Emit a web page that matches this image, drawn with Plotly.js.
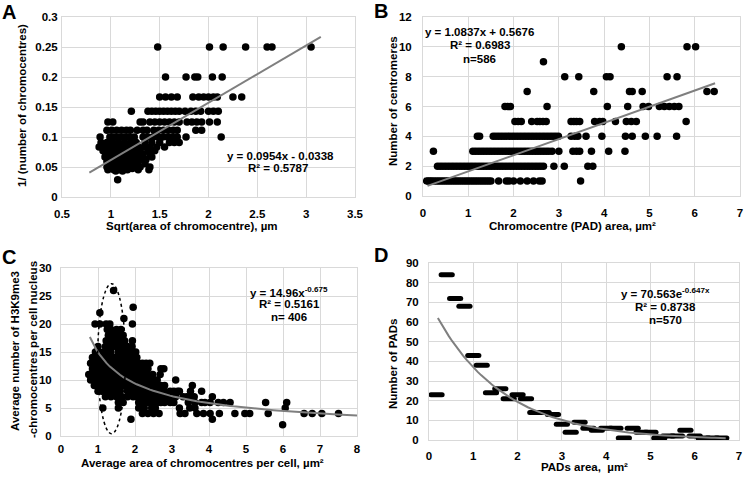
<!DOCTYPE html>
<html><head><meta charset="utf-8">
<script src="https://cdn.plot.ly/plotly-3.0.1.min.js"></script>
<style>html,body{margin:0;padding:0;background:#fff}#chart{width:744px;height:479px}path.point{stroke-linecap:round}</style>
</head><body><div id="chart"></div><script>
// ---------- Panel A: 1/(number of chromocentres) vs sqrt(area) ----------
const aLevels = [0.25, 0.2, 0.1667, 0.1429, 0.125, 0.1111, 0.1, 0.0909, 0.0833, 0.0769, 0.0714, 0.0667, 0.0625, 0.0588, 0.0556, 0.0526, 0.05, 0.0476, 0.0455, 0.0435, 0.0286];
const aRows = [
  [1.48, 2.01, 2.15, 2.38, 2.6, 2.65, 3.05],
  [1.56, 1.77, 1.86, 1.89, 2.04, 2.14],
  [1.5, 1.56, 1.62, 1.68, 1.84, 1.9, 1.95, 2.0, 2.05, 2.09, 2.25, 2.34],
  [1.21, 1.38, 1.42, 1.46, 1.5, 1.54, 1.58, 1.62, 1.66, 1.7, 1.76, 1.82, 1.87, 1.92, 2.0, 2.05, 2.1],
  [0.97, 1.02, 1.3, 1.33, 1.4, 1.45, 1.5, 1.55, 1.6, 1.65, 1.7, 1.78, 1.83, 1.88, 1.93, 2.01, 2.09],
  [0.96, 1.01, 1.06, 1.11, 1.16, 1.2, 1.27, 1.33, 1.37, 1.44, 1.49, 1.54, 1.59, 1.64, 1.68, 1.87, 1.93],
  [0.89, 0.99, 1.04, 1.09, 1.14, 1.19, 1.24, 1.33, 1.38, 1.43, 1.48, 1.53, 1.58, 1.63, 1.68, 1.77, 2.13],
  [0.9, 0.96, 1.02, 1.08, 1.14, 1.2, 1.26, 1.35, 1.42, 1.5, 1.6, 1.65, 1.7],
  [0.88, 0.93, 0.98, 1.04, 1.1, 1.16, 1.22, 1.28, 1.34, 1.4, 1.47, 1.55],
  [0.92, 0.97, 1.02, 1.07, 1.12, 1.17, 1.23, 1.3, 1.38, 1.45],
  [0.95, 1.0, 1.06, 1.11, 1.16, 1.21, 1.27, 1.33, 1.4],
  [0.94, 0.99, 1.04, 1.09, 1.14, 1.2, 1.25, 1.32, 1.42],
  [0.97, 1.03, 1.08, 1.13, 1.19, 1.24, 1.3, 1.36],
  [0.96, 1.01, 1.06, 1.12, 1.18, 1.23, 1.28],
  [0.98, 1.04, 1.1, 1.16, 1.22, 1.27, 1.35],
  [0.97, 1.02, 1.08, 1.14, 1.2, 1.25],
  [0.96, 1.01, 1.06, 1.12, 1.17, 1.24, 1.3, 1.4],
  [0.98, 1.04, 1.1, 1.15, 1.22],
  [0.97, 1.03, 1.09, 1.17, 1.28, 1.39],
  [1.05, 1.12],
  [1.07]
];
const aFit = [0.0954, -0.0338];      // slope, intercept (from chart label)
const aFitRange = [0.78, 3.15];

// ---------- Panel B: number of centromeres vs chromocentre area ----------
const bLevels = [10, 9, 8, 7, 6, 5, 4, 3, 2, 1];
const bRows = [
  [4.38, 5.83, 6.02],
  [2.66],
  [3.13, 3.44, 4.05, 4.13, 5.39, 5.61],
  [2.3, 3.77, 4.56, 4.62, 4.84, 6.27, 6.43],
  [1.81, 1.87, 1.93, 2.74, 4.07, 4.52, 4.86, 4.98, 5.22, 5.33, 5.44, 5.55, 5.65],
  [2.03, 2.1, 2.17, 2.4, 2.52, 2.58, 2.65, 2.72, 3.27, 3.33, 3.39, 3.46, 3.79, 3.9, 3.97, 4.25, 4.49, 4.6, 4.71, 5.81],
  [1.2, 1.25, 1.55, 1.61, 1.67, 1.73, 1.79, 1.85, 1.91, 1.97, 2.03, 2.09, 2.15, 2.21, 2.27, 2.33, 2.39, 2.45, 2.51, 2.57, 2.63, 2.69, 2.75, 2.81, 2.87, 2.93, 2.99, 3.27, 3.35, 3.42, 3.6, 3.95, 4.47, 4.62, 4.91, 5.17, 5.6],
  [0.23, 1.1, 1.16, 1.22, 1.28, 1.34, 1.4, 1.46, 1.52, 1.58, 1.64, 1.7, 1.76, 1.82, 1.88, 1.94, 2.0, 2.06, 2.12, 2.18, 2.24, 2.3, 2.36, 2.42, 2.48, 2.54, 2.6, 2.66, 2.72, 2.78, 2.85, 3.0, 3.31, 3.39, 3.46, 3.72, 4.1, 4.46],
  [0.32, 0.38, 0.44, 0.5, 0.56, 0.62, 0.68, 0.74, 0.8, 0.86, 0.92, 0.98, 1.04, 1.1, 1.16, 1.22, 1.28, 1.34, 1.4, 1.46, 1.52, 1.58, 1.64, 1.7, 1.76, 1.82, 1.88, 1.94, 2.0, 2.06, 2.12, 2.18, 2.24, 2.3, 2.36, 2.42, 2.48, 2.54, 2.6, 2.66, 2.89, 3.12, 3.64, 3.75],
  [0.08, 0.12, 0.16, 0.2, 0.25, 0.3, 0.35, 0.4, 0.45, 0.5, 0.55, 0.6, 0.65, 0.7, 0.75, 0.8, 0.85, 0.9, 0.95, 1.0, 1.05, 1.1, 1.15, 1.2, 1.25, 1.3, 1.35, 1.4, 1.45, 1.5, 1.67, 1.84, 1.9, 2.0, 2.15, 2.3, 2.44, 2.57, 2.63, 3.48]
];
const bFit = [1.0837, 0.5676];
const bFitRange = [0.1, 6.45];

// ---------- Panel C: average number of H3K9me3 chromocentres vs average area ----------
const cLevels = [26, 23, 22, 21, 20, 19, 18, 17, 16, 15, 14, 13, 12, 11, 10, 9, 8, 7, 6, 5, 4, 3, 2];
const cRows = [
  [1.42],
  [1.95],
  [1.05],
  [1.7],
  [0.92, 1.05, 1.22, 1.32, 1.93],
  [1.25, 1.35, 1.5, 1.62],
  [1.28, 1.38, 1.48, 1.58, 1.68],
  [1.22, 1.32, 1.42, 1.52, 1.62, 1.72, 1.93],
  [1.0, 1.2, 1.3, 1.4, 1.5, 1.6, 1.7, 1.8, 1.92],
  [0.93, 1.02, 1.15, 1.25, 1.35, 1.55, 1.65, 1.75, 1.85, 1.95, 2.02],
  [0.85, 0.95, 1.05, 1.15, 1.25, 1.35, 1.45, 1.55, 1.65, 1.75, 1.85, 1.95, 2.05],
  [0.8, 0.9, 1.0, 1.1, 1.2, 1.3, 1.4, 1.5, 1.6, 1.7, 1.8, 1.9, 2.0, 2.1, 2.2, 2.3, 2.4],
  [0.85, 0.95, 1.05, 1.15, 1.25, 1.35, 1.45, 1.55, 1.65, 1.75, 1.85, 1.95, 2.05, 2.15, 2.25, 2.35, 2.7, 2.78],
  [0.75, 0.85, 0.95, 1.05, 1.15, 1.25, 1.35, 1.45, 1.55, 1.65, 1.75, 1.85, 1.95, 2.05, 2.15, 2.25, 2.35, 2.48, 2.68],
  [0.8, 0.9, 1.0, 1.1, 1.2, 1.3, 1.4, 1.5, 1.6, 1.7, 1.8, 1.9, 2.0, 2.1, 2.2, 2.3, 2.4, 2.5, 2.6, 3.1],
  [0.9, 1.0, 1.1, 1.2, 1.3, 1.4, 1.5, 1.6, 1.7, 1.8, 1.9, 2.0, 2.1, 2.2, 2.3, 2.4, 2.5, 2.6, 2.7, 2.8, 3.55],
  [1.0, 1.1, 1.2, 1.3, 1.45, 1.6, 1.8, 1.9, 2.0, 2.1, 2.2, 2.3, 2.4, 2.5, 2.6, 2.7, 2.8, 2.95, 3.05, 3.15, 3.2, 3.5, 3.8],
  [1.2, 1.35, 1.5, 1.65, 1.8, 1.95, 2.05, 2.15, 2.25, 2.35, 2.45, 2.55, 2.65, 2.75, 2.85, 3.0, 3.1, 3.3, 3.4, 3.5, 3.6, 4.09],
  [1.55, 1.68, 2.1, 2.2, 2.3, 2.4, 2.5, 2.6, 2.7, 2.8, 2.95, 3.05, 3.44, 3.62, 3.8, 3.89, 4.03, 4.25, 4.39, 4.57, 5.53, 6.1],
  [1.13, 1.55, 2.1, 2.25, 2.45, 2.55, 3.2, 3.48, 3.62, 6.06],
  [2.2, 2.35, 2.5, 2.65, 3.22, 3.35, 3.67, 3.85, 4.03, 4.28, 4.7, 4.97, 5.1, 5.6, 6.57, 6.79, 7.05, 7.5],
  [1.89, 4.09],
  [5.99]
];
const cFit = [14.96, -0.675];        // y = a * x^b
const cFitRange = [0.78, 8];

// ---------- Panel D: number of PADs vs PAD area ----------
const dArea = [0.17, 0.4, 0.59, 0.8, 1.0, 1.19, 1.4, 1.61, 1.8, 2.0, 2.19, 2.4, 2.59, 2.8, 3.0, 3.2, 3.4, 3.6, 3.79, 4.0, 4.21, 4.4, 4.6, 4.8, 5.0, 5.2, 5.4, 5.6, 5.79, 6.0, 6.2, 6.4, 6.6];
const dCount = [23, 84, 72, 68, 43, 38, 24, 26, 21, 23, 21, 14, 14, 13, 8, 4, 9, 6, 5, 6, 6, 1, 6, 4, 4, 1, 2, 2, 5, 2, 1, 1, 1];
const dFit = [70.563, -0.647];       // y = a * e^(b x)
const dFitRange = [0.2, 6.7];

// ---------- build ----------
function expand(levels, rows) {
  const x = [], y = [];
  rows.forEach((r, i) => r.forEach(v => { x.push(v); y.push(levels[i]); }));
  return {x, y};
}
function sample(range, n) { const o = []; for (let i = 0; i <= n; i++) o.push(range[0] + (range[1] - range[0]) * i / n); return o; }

const A = expand(aLevels, aRows), B = expand(bLevels, bRows), C = expand(cLevels, cRows);
const lineStyle = {color: '#7f7f7f', width: 2};
const dot = {color: '#000', size: 7.5};

const aLx = aFitRange, aLy = aLx.map(x => aFit[0] * x + aFit[1]);
const bLx = bFitRange, bLy = bLx.map(x => bFit[0] * x + bFit[1]);
const cLx = sample(cFitRange, 80), cLy = cLx.map(x => cFit[0] * Math.pow(x, cFit[1]));
const dLx = sample(dFitRange, 80), dLy = dLx.map(x => dFit[0] * Math.exp(dFit[1] * x));

const traces = [
  {x: A.x, y: A.y, mode: 'markers', marker: dot, xaxis: 'x', yaxis: 'y'},
  {x: aLx, y: aLy, mode: 'lines', line: lineStyle, xaxis: 'x', yaxis: 'y'},
  {x: B.x, y: B.y, mode: 'markers', marker: dot, xaxis: 'x2', yaxis: 'y2'},
  {x: bLx, y: bLy, mode: 'lines', line: lineStyle, xaxis: 'x2', yaxis: 'y2'},
  {x: C.x, y: C.y, mode: 'markers', marker: {color: '#000', size: 7.5}, xaxis: 'x3', yaxis: 'y3'},
  {x: cLx, y: cLy, mode: 'lines', line: lineStyle, xaxis: 'x3', yaxis: 'y3'},
  {x: dArea, y: dCount, mode: 'markers', marker: {symbol: 'line-ew', size: 8, color: '#000', line: {color: '#000', width: 5}}, xaxis: 'x4', yaxis: 'y4'},
  {x: dLx, y: dLy, mode: 'lines', line: lineStyle, xaxis: 'x4', yaxis: 'y4'}
];

const FAM = 'Liberation Sans, Arial, Helvetica, sans-serif';
const tf = {family: FAM, size: 11.5, color: '#000', weight: 'bold'};
const W = 744, H = 479;
function px(x) { return x / W; }
function py(y) { return 1 - y / H; }
function ax(d, range, dtick, anchor, ticklen) {
  return {domain: d, range: range, dtick: dtick, tick0: range[0], anchor: anchor, autorange: false,
    showgrid: true, gridcolor: '#d9d9d9', gridwidth: 1, zeroline: false,
    showline: true, mirror: true, linecolor: '#d9d9d9', linewidth: 1,
    ticks: 'outside', ticklen: ticklen, tickcolor: 'rgba(0,0,0,0)', tickfont: tf, fixedrange: true};
}
function ann(text, x, y, o) {
  return Object.assign({text: text, x: px(x), y: py(y), xref: 'paper', yref: 'paper', showarrow: false,
    xanchor: 'center', yanchor: 'middle', font: tf}, o || {});
}
const big = {family: FAM, size: 20, color: '#000', weight: 'bold'};

const layout = {
  width: W, height: H, margin: {l: 0, r: 0, t: 0, b: 0}, showlegend: false,
  paper_bgcolor: '#fff', plot_bgcolor: '#fff', font: tf,
  xaxis: ax([px(62), px(355)], [0.5, 3.5], 0.5, 'y', 6),
  yaxis: ax([py(197), py(17)], [0, 0.3], 0.05, 'x', 1),
  xaxis2: ax([px(423), px(740)], [0, 7], 1, 'y2', 6),
  yaxis2: ax([py(196), py(17)], [0, 12], 2, 'x2', 8),
  xaxis3: ax([px(61), px(357)], [0, 8], 1, 'y3', 2),
  yaxis3: ax([py(436), py(268)], [0, 30], 5, 'x3', 6),
  xaxis4: ax([px(429), px(739)], [0, 7], 1, 'y4', 5),
  yaxis4: ax([py(440), py(263)], [0, 90], 10, 'x4', 7),
  shapes: [{type: 'circle', xref: 'x3', yref: 'y3', x0: 0.99, x1: 1.74, y0: 0.4, y1: 27.2,
    line: {color: '#000', width: 1.5, dash: 'dot'}, layer: 'above'}],
  annotations: [
    ann('A', 9, 12, {font: big}), ann('B', 381, 11, {font: big}),
    ann('C', 9, 257, {font: big}), ann('D', 381, 255, {font: big}),
    ann('1/ (number of chromocentres)', 22, 106, {textangle: -90}),
    ann('Sqrt(area of chromocentre), µm', 192, 226),
    ann('Number of centromeres', 393, 101, {textangle: -90}),
    ann('Chromocentre (PAD) area, µm²', 572, 226),
    ann('Average number of H3K9me3', 15, 351, {textangle: -90}),
    ann('-chromocentres per cell nucleus', 33, 350, {textangle: -90}),
    ann('Average area of chromocentres per cell, µm²', 203, 463),
    ann('Number of PADs', 393, 364, {textangle: -90}),
    ann('PADs area,  µm²', 584, 467),
    ann('y = 0.0954x - 0.0338', 280, 156), ann('R² = 0.5787', 278, 168),
    ann('y = 1.0837x + 0.5676', 479, 32), ann('R² = 0.6983', 480, 45), ann('n=586', 479, 59),
    ann('y = 14.96x<sup>-0.675</sup>', 289, 292), ann('R² = 0.5161', 289, 304), ann('n= 406', 289, 317),
    ann('y = 70.563e<sup>-0.647x</sup>', 665, 293), ann('R² = 0.8738', 665, 307), ann('n=570', 665, 320)
  ]
};
Plotly.newPlot('chart', traces, layout, {staticPlot: true, displayModeBar: false});
</script></body></html>
